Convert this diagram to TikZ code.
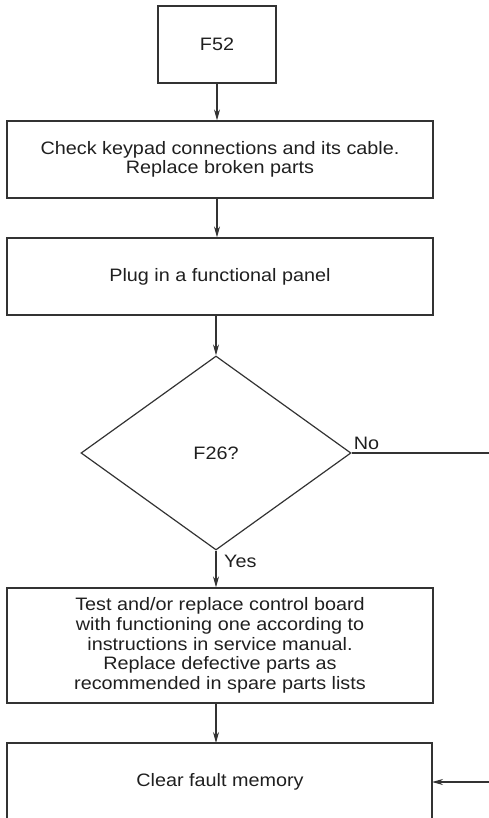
\documentclass[tikz,border=0pt]{standalone}
\usepackage{fontspec}
\setmainfont{Liberation Sans}[FakeStretch=1.1]
\usetikzlibrary{arrows.meta,shapes.geometric}
\definecolor{chartline}{HTML}{333333}
\definecolor{charttext}{HTML}{1F1F1F}

\begin{document}
\begin{tikzpicture}[
  x=1pt,
  y=-1pt,
  line join=miter,
  every node/.style={font=\fontsize{18}{19.6}\selectfont,text=charttext},
  stepbox/.style={draw=chartline,line width=1.2pt,rectangle,align=center,inner sep=0pt},
  decision/.style={draw=chartline,line width=1.2pt,diamond,aspect=1.39,
    minimum width=270pt,minimum height=194pt,inner sep=0pt},
  flow/.style={draw=chartline,line width=1.2pt,-{Stealth[length=11pt,width=6pt]}},
  plain/.style={draw=chartline,line width=1.2pt}
]
  \useasboundingbox (0,0) rectangle (489,818);

  % Process boxes, top to bottom.
  \node[stepbox,minimum width=118pt,minimum height=77pt] (f52) at (217,44.5) {F52};
  \node[stepbox,minimum width=426pt,minimum height=77pt] (keypad) at (220,159.5)
    {Check keypad connections and its cable.\\Replace broken parts};
  \node[stepbox,minimum width=426pt,minimum height=77pt] (panel) at (220,276.5)
    {Plug in a functional panel};
  \node[decision] (f26) at (216,453) {F26?};
  \node[stepbox,minimum width=426pt,minimum height=115pt] (board) at (220,645.5)
    {Test and/or replace control board\\with functioning one according to\\instructions in service manual.\\Replace defective parts as\\recommended in spare parts lists};

  % Last box runs off the bottom edge.
  \draw[plain] (7,818) -- (7,743) -- (432,743) -- (432,818);
  \node (memory) at (220,782) {Clear fault memory};
  \coordinate (memE) at (432,782);

  % Free ends on the right margin.
  \coordinate (noEnd) at (489,453);
  \coordinate (backIn) at (489,782);

  % Connectors.
  \draw[flow] (f52.south) -- (f52.south |- keypad.north);
  \draw[flow] (keypad.south -| f52.south) -- (f52.south |- panel.north);
  \draw[flow] (panel.south -| f26.north) -- (f26.north);
  \draw[flow] (f26.south) -- (f26.south |- board.north);
  \draw[flow] (board.south -| f26.south) -- (f26.south |- 0,743);
  \draw[plain] (f26.east) -- (noEnd);
  \draw[flow] (backIn) -- (memE);

  % Branch labels.
  \node[anchor=south west,inner sep=0pt] (noLbl) at ([shift={(2,-3)}]f26.east) {No};
  \node[anchor=west,inner sep=0pt] (yesLbl) at ([shift={(8,11)}]f26.south) {Yes};
\end{tikzpicture}
\end{document}
